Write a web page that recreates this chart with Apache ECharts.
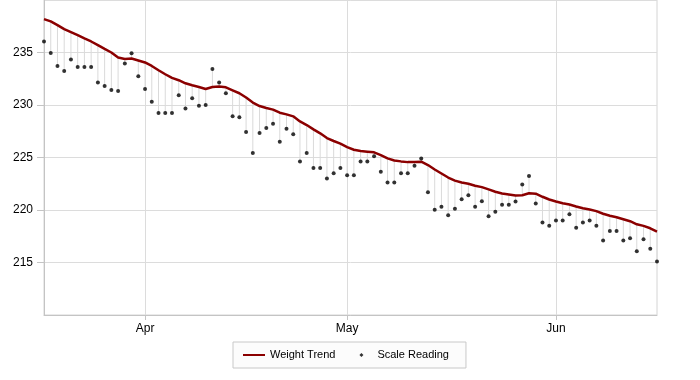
<!DOCTYPE html>
<html>
<head>
<meta charset="utf-8">
<script src="https://cdn.jsdelivr.net/npm/echarts@6/dist/echarts.min.js"></script>
<style>html,body{margin:0;padding:0;background:#fff}#c{width:700px;height:380px}</style>
</head>
<body>
<div id="c"></div>
<script>
var categories = [
'Mar 17','Mar 18','Mar 19','Mar 20','Mar 21','Mar 22','Mar 23','Mar 24','Mar 25','Mar 26','Mar 27','Mar 28','Mar 29','Mar 30','Mar 31',
'Apr 1','Apr 2','Apr 3','Apr 4','Apr 5','Apr 6','Apr 7','Apr 8','Apr 9','Apr 10','Apr 11','Apr 12','Apr 13','Apr 14','Apr 15',
'Apr 16','Apr 17','Apr 18','Apr 19','Apr 20','Apr 21','Apr 22','Apr 23','Apr 24','Apr 25','Apr 26','Apr 27','Apr 28','Apr 29','Apr 30',
'May 1','May 2','May 3','May 4','May 5','May 6','May 7','May 8','May 9','May 10','May 11','May 12','May 13','May 14','May 15','May 16',
'May 17','May 18','May 19','May 20','May 21','May 22','May 23','May 24','May 25','May 26','May 27','May 28','May 29','May 30','May 31',
'Jun 1','Jun 2','Jun 3','Jun 4','Jun 5','Jun 6','Jun 7','Jun 8','Jun 9','Jun 10','Jun 11','Jun 12','Jun 13','Jun 14','Jun 15','Jun 16'
];
var trendValues = [
238.18,237.96,237.6,237.22,236.94,236.65,236.34,236.05,235.7,235.34,235.0,234.52,234.39,234.43,234.24,
234.05,233.72,233.31,232.93,232.58,232.36,232.07,231.88,231.72,231.53,231.72,231.76,231.68,231.4,231.12,
230.71,230.23,229.9,229.71,229.56,229.27,229.11,228.92,228.44,228.09,227.68,227.3,226.85,226.57,226.32,
225.99,225.74,225.61,225.55,225.49,225.23,224.92,224.72,224.63,224.56,224.56,224.6,224.28,223.86,223.48,223.09,
222.8,222.62,222.5,222.31,222.18,221.96,221.74,221.57,221.48,221.38,221.41,221.6,221.55,221.26,221.0,
220.81,220.65,220.52,220.33,220.17,220.05,219.89,219.64,219.45,219.31,219.12,218.93,218.64,218.49,218.26,217.95
];
var scaleValues = [
236.05,234.96,233.72,233.25,234.33,233.63,233.63,233.63,232.14,231.82,231.43,231.34,233.95,234.93,232.74,
231.53,230.32,229.24,229.24,229.24,230.93,229.66,230.64,229.94,230.0,233.44,232.14,231.12,228.92,228.83,
227.43,225.42,227.33,227.81,228.22,226.5,227.73,227.22,224.63,225.42,223.99,223.99,223.0,223.51,223.99,
223.32,223.32,224.63,224.63,225.13,223.64,222.62,222.62,223.51,223.51,224.22,224.91,221.7,220.02,220.32,219.5,
220.12,221.03,221.41,220.3,220.84,219.41,219.83,220.5,220.5,220.81,222.43,223.23,220.62,218.81,218.49,
219.0,219.0,219.6,218.3,218.81,219.0,218.49,217.09,218.01,218.01,217.09,217.31,216.07,217.21,216.3,215.09
];
var seriesNames = ['Weight Trend', 'Scale Reading'];

var dropData = categories.map(function (c, i) { return [i, trendValues[i], scaleValues[i]]; });
function isMonthStart(idx, val) { return String(val).split(' ')[1] === '1'; }

var chart = echarts.init(document.getElementById('c'), null, {renderer: 'canvas'});
var font = "'Liberation Sans', Arial, sans-serif";
chart.setOption({
  animation: false,
  textStyle: {fontFamily: font},
  grid: {left: 44, right: 43, top: 0, bottom: 65, show: true, borderColor: '#d4d4d4', borderWidth: 1},
  legend: {
    left: 233, top: 342, orient: 'horizontal',
    padding: [7, 17, 7, 10], itemGap: 15, itemWidth: 22, itemHeight: 12,
    backgroundColor: '#fcfcfc', borderColor: '#c8c8c8', borderWidth: 1, borderRadius: 0,
    textStyle: {fontSize: 11, color: '#000', fontFamily: font},
    data: [
      {name: seriesNames[0], icon: 'path://M0,0 M22,12 M0,5 L22,5 L22,7 L0,7 Z'},
      {name: seriesNames[1], icon: 'path://M0,0 M22,12 M11,4 L13,6 L11,8 L9,6 Z'}
    ]
  },
  xAxis: {
    type: 'category', data: categories, boundaryGap: false,
    axisLine: {lineStyle: {color: '#c4c4c4'}},
    axisTick: {show: true, interval: isMonthStart, length: 5, lineStyle: {color: '#c4c4c4'}},
    splitLine: {show: true, interval: isMonthStart, lineStyle: {color: '#dcdcdc'}},
    axisLabel: {interval: isMonthStart, margin: 8, fontSize: 12, color: '#000', fontFamily: font,
      formatter: function (v) { return v.split(' ')[0]; }}
  },
  yAxis: {
    type: 'value', min: 210, max: 240, interval: 5,
    axisLine: {show: true, lineStyle: {color: '#c4c4c4'}},
    axisTick: {show: true, length: 7, lineStyle: {color: '#c4c4c4'}},
    splitLine: {lineStyle: {color: '#dcdcdc'}},
    axisLabel: {showMinLabel: false, showMaxLabel: false, margin: 11, fontSize: 12, color: '#000', fontFamily: font}
  },
  series: [
    {
      type: 'custom', name: 'drop', data: dropData, encode: {x: 0, y: [1, 2]}, z: 1, silent: true,
      renderItem: function (params, api) {
        var a = api.coord([api.value(0), api.value(1)]);
        var b = api.coord([api.value(0), api.value(2)]);
        return {type: 'line', shape: {x1: a[0], y1: a[1], x2: b[0], y2: b[1]},
          style: {stroke: '#dadada', lineWidth: 1}};
      }
    },
    {
      type: 'line', name: seriesNames[0], data: trendValues, symbol: 'none', showSymbol: false,
      color: '#8B0000', lineStyle: {color: '#8B0000', width: 2.5}, z: 2
    },
    {
      type: 'scatter', name: seriesNames[1], data: scaleValues, symbol: 'circle', symbolSize: 4,
      color: '#000', itemStyle: {color: '#000'}, z: 3
    }
  ]
});
</script>
</body>
</html>
